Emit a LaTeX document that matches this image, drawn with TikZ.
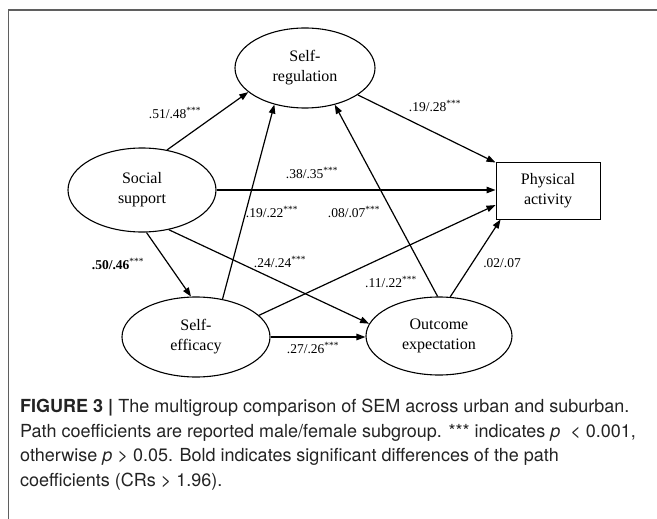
\documentclass[tikz,border=0pt]{standalone}
\usepackage{fontspec}
\setmainfont{Liberation Serif}
\newfontfamily\capfont{TeX Gyre Heros}
\usetikzlibrary{arrows.meta,shapes.geometric}
\definecolor{framegray}{RGB}{95,95,95}
\definecolor{captext}{RGB}{35,35,35}

\begin{document}
\begin{tikzpicture}[x=1pt,y=-1pt,
  latent/.style={ellipse, draw, line width=1.1pt, inner sep=0pt,
    align=center, font=\fontsize{16}{20}\selectfont},
  observed/.style={rectangle, draw, line width=1pt, inner sep=0pt,
    minimum width=104pt, minimum height=56pt, align=center,
    font=\fontsize{16}{20}\selectfont},
  effect/.style={-{Triangle[length=9pt,width=6.5pt]}, line width=1.2pt},
  coef/.style={font=\fontsize{13.5}{15}\selectfont, inner sep=0pt}
]
\useasboundingbox (0,0) rectangle (657,519);

% outer frame
\draw[framegray, line width=2pt] (8,10) -- (657,10);
\draw[framegray, line width=1pt] (8,10) -- (8,519);

% constructs
\node[latent, minimum width=140pt, minimum height=80pt] (reg) at (305,68) {Self-\\regulation};
\node[latent, minimum width=148pt, minimum height=84pt] (soc) at (142,190) {Social\\support};
\node[latent, minimum width=148pt, minimum height=80pt] (eff) at (196,337) {Self-\\efficacy};
\node[latent, minimum width=146pt, minimum height=78pt] (out) at (439,336) {Outcome\\expectation};
\node[observed] (phys) at (548,191) {Physical\\activity};

% structural paths
\draw[effect] (soc.58) -- (reg.203);
\draw[effect] (reg.333) -- (phys.north west);
\draw[effect] (soc.east) -- (soc.east -| phys.west);
\draw[effect] (eff.55) -- (reg.230);
\draw[effect] (out.92) -- (reg.309);
\draw[effect] (soc.276) -- (eff.97);
\draw[effect] (soc.304) -- (out.170);
\draw[effect] (eff.19) -- (phys.195);
\draw[effect] (eff.east) -- (eff.east -| out.west);
\draw[effect] (out.74) -- (phys.211);

% path coefficients (male/female)
\node[coef] (c1) at (175,113) {.51/.48\textsuperscript{***}};
\node[coef] (c2) at (435,106) {.19/.28\textsuperscript{***}};
\node[coef] (c3) at (312,173) {.38/.35\textsuperscript{***}};
\node[coef] (c4) at (272,212) {.19/.22\textsuperscript{***}};
\node[coef] (c5) at (354,212) {.08/.07\textsuperscript{***}};
\node[coef] (c6) at (118,264) {\textbf{.50/.46}\textsuperscript{***}};
\node[coef] (c7) at (280,262) {.24/.24\textsuperscript{***}};
\node[coef] (c8) at (391,282) {.11/.22\textsuperscript{***}};
\node[coef] (c9) at (313,348) {.27/.26\textsuperscript{***}};
\node[coef] (c10) at (502,263) {.02/.07};

% caption
\node[anchor=north west, inner sep=0pt, align=left, text=captext,
  font=\capfont\fontsize{18}{24.5}\selectfont] (cap) at (20,399)
{\textbf{FIGURE 3 |} The multigroup comparison of SEM across urban and suburban.\\
Path coefficients are reported male/female subgroup. *** indicates \textit{p}\ \ < 0.001,\\
otherwise \textit{p} > 0.05. Bold indicates significant differences of the path\\
coefficients (CRs > 1.96).};
\end{tikzpicture}
\end{document}
